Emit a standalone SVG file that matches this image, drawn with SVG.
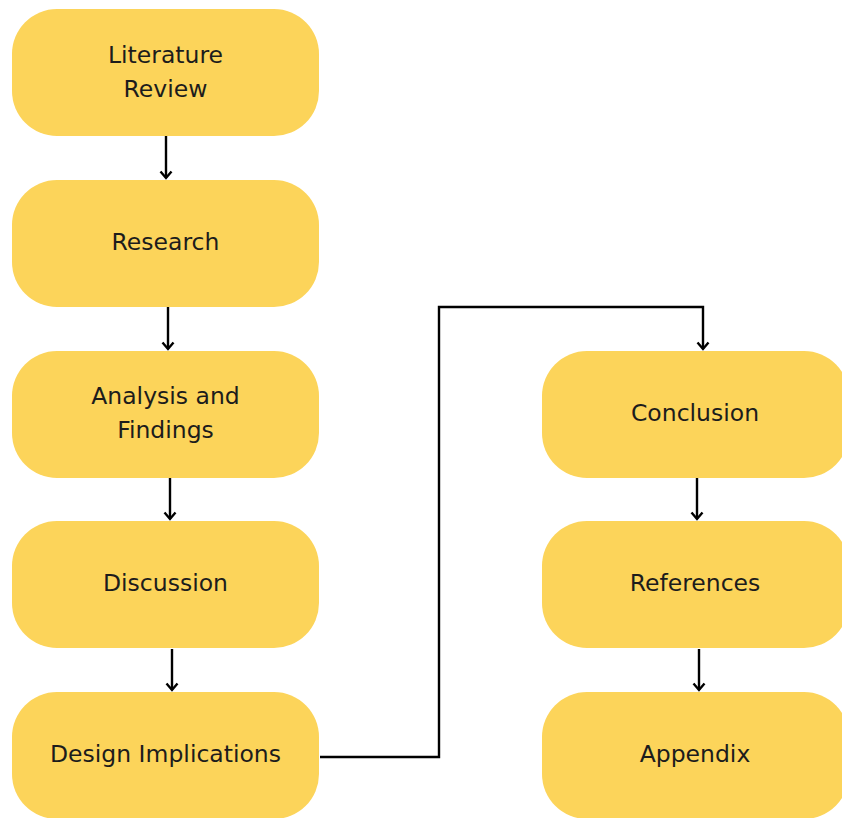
<svg xmlns="http://www.w3.org/2000/svg" width="842" height="818" viewBox="0 0 842 818">
<defs>
<style>
.n{fill:#FCD45A;}
.t{font-family:"DejaVu Sans","Open Sans",sans-serif;font-size:23.5px;fill:#1c1c1c;text-anchor:middle;dominant-baseline:central;}
.c{fill:none;stroke:#000;stroke-width:2.4;}
</style>
<marker id="ah" markerWidth="14" markerHeight="14" refX="10" refY="7" orient="auto" markerUnits="userSpaceOnUse" viewBox="0 0 14 14">
<path d="M3.5,1.5 L10,7 L3.5,12.5" fill="none" stroke="#000" stroke-width="2.4"/>
</marker>
</defs>
<rect width="842" height="818" fill="#fff"/>
<g id="connectors">
<path class="c" d="M166,136 V178" marker-end="url(#ah)"/>
<path class="c" d="M168,307 V349" marker-end="url(#ah)"/>
<path class="c" d="M170,478 V519" marker-end="url(#ah)"/>
<path class="c" d="M172,649 V690" marker-end="url(#ah)"/>
<path class="c" d="M320,757 H439 V307 H703 V349" marker-end="url(#ah)"/>
<path class="c" d="M697,478 V519" marker-end="url(#ah)"/>
<path class="c" d="M699,649 V690" marker-end="url(#ah)"/>
</g>
<g id="literature-review">
<rect class="n" x="12" y="9" width="307" height="127" rx="45"/>
<text class="t" x="165.5" y="55">Literature</text>
<text class="t" x="165.5" y="89">Review</text>
</g>
<g id="research">
<rect class="n" x="12" y="180" width="307" height="127" rx="45"/>
<text class="t" x="165.5" y="242">Research</text>
</g>
<g id="analysis-and-findings">
<rect class="n" x="12" y="351" width="307" height="127" rx="45"/>
<text class="t" x="165.5" y="396">Analysis and</text>
<text class="t" x="165.5" y="430">Findings</text>
</g>
<g id="discussion">
<rect class="n" x="12" y="521" width="307" height="127" rx="45"/>
<text class="t" x="165.5" y="583">Discussion</text>
</g>
<g id="design-implications">
<rect class="n" x="12" y="692" width="307" height="127" rx="45"/>
<text class="t" x="165.5" y="754">Design Implications</text>
</g>
<g id="conclusion">
<rect class="n" x="542" y="351" width="307" height="127" rx="45"/>
<text class="t" x="695" y="413">Conclusion</text>
</g>
<g id="references">
<rect class="n" x="542" y="521" width="307" height="127" rx="45"/>
<text class="t" x="695" y="583">References</text>
</g>
<g id="appendix">
<rect class="n" x="542" y="692" width="307" height="127" rx="45"/>
<text class="t" x="695" y="754">Appendix</text>
</g>
</svg>
